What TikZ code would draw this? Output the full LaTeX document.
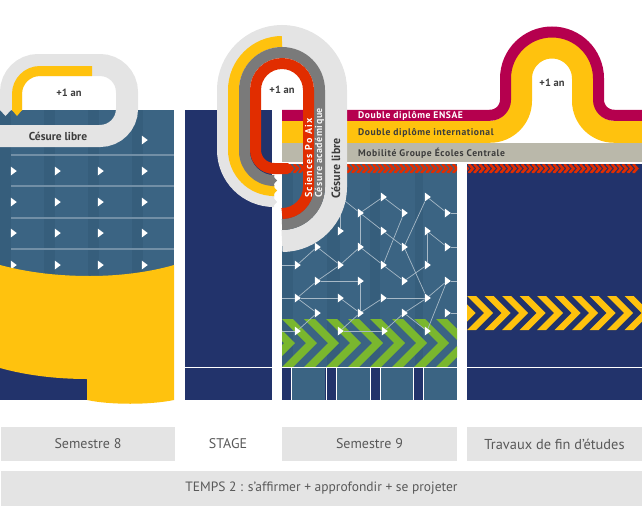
\documentclass[tikz,border=0pt]{standalone}
\usepackage{fontspec}
\setmainfont{PT Sans}
\newfontfamily\bandfont[LetterSpace=6]{PT Sans}
\newfontfamily\acadfont[LetterSpace=5]{PT Sans}
\newfontfamily\aixfont[LetterSpace=11]{PT Sans}
\usetikzlibrary{shapes.geometric}

\definecolor{steel}{HTML}{3B6483}
\definecolor{stripe}{HTML}{365E7C}
\definecolor{navy}{HTML}{22336B}
\definecolor{gold}{HTML}{FFC20E}
\definecolor{wine}{HTML}{B5004E}
\definecolor{blood}{HTML}{E12D00}
\definecolor{slate}{HTML}{7A7A7A}
\definecolor{pale}{HTML}{E4E4E4}
\definecolor{sand}{HTML}{BAB8AA}
\definecolor{lime}{HTML}{7AB72E}
\definecolor{ink}{HTML}{3C3C3C}

\tikzset{
  arrowhead/.style={isosceles triangle,isosceles triangle stretches,fill=white,inner sep=0pt,
    minimum width=9pt,minimum height=6pt},
  link/.style={draw=white!55!steel,line width=0.7pt},
  streak/.style={draw=white!28!steel,line width=1.2pt},
  caption/.style={fill=pale,text=ink!85,font=\fontsize{14}{14}\selectfont,inner sep=0pt,minimum height=34pt},
  bandlabel/.style={anchor=west,inner sep=0pt,font=\bandfont\bfseries\fontsize{9.6}{10}\selectfont},
  looplabel/.style={anchor=west,rotate=90,inner sep=0pt},
  extra/.style={text=ink,inner sep=0pt,font=\bfseries\fontsize{10.5}{10.5}\selectfont}
}

\begin{document}
\begin{tikzpicture}[x=1pt,y=1pt,yscale=-1]
    \useasboundingbox (0,0) rectangle (642,506);

    % Semestre 8
    \fill[steel] (0,110) rectangle (174,290);
    \foreach \x in {0,44,88,132}
        \fill[stripe] (\x,110) rectangle (\x+10.5,290);
    \foreach \y in {155,186,218,249}
        \draw[streak] (11,\y) -- (174,\y);
    \foreach \x/\c in {13/a,57/b,100/c,144/d}
        \foreach \y/\r in {171/1,202/2,233/3,265/4}
            \node[arrowhead] (s\c\r) at (\x,\y) {};
    \node[arrowhead] (sd0) at (144,140) {};
    \fill[navy] (0,360) rectangle (87,400);
    \fill[gold] (0,265) .. controls (30,273) and (60,276) .. (90,276)
        .. controls (120,276) and (150,272) .. (174,265) -- (174,400)
        .. controls (150,405) and (110,405) .. (87,400) -- (87,379)
        .. controls (55,379) and (25,375) .. (0,368) -- cycle;

    % STAGE
    \fill[navy] (185,110) rectangle (272,400);
    \draw[white,line width=1pt] (185,367.5) -- (272,367.5);

    % bandes du haut
    \fill[sand] (282,143) rectangle (642,162);
    \draw[gold,line width=22pt] (282,131.75) -- (490,131.75) arc (90:0:31) -- (521,78.5)
        arc (180:360:31) -- (583,100.75) arc (180:90:31) -- (642,131.75);
    \draw[wine,line width=11pt] (282,115.25) -- (490,115.25) arc (90:0:15.5) -- (505.5,78.5)
        arc (180:360:46.5) -- (598.5,99.75) arc (180:90:15.5) -- (642,115.25);

    % Semestre 9
    \fill[steel] (282,173) rectangle (457,367);
    \foreach \x/\w in {282/11,327/13,370/10,415/8}
        \fill[stripe] (\x,173) rectangle (\x+\w,367);
    \begin{scope}
        \clip (282,319) rectangle (457,367);
        \foreach \x in {260,282,...,436}
            \fill[lime] (\x,319) -- (\x+11,319) -- (\x+35,343) -- (\x+11,367) -- (\x,367) -- (\x+24,343) -- cycle;
    \end{scope}
    \fill[navy] (282,368) rectangle (457,400);
    \foreach \x in {292,337,381,424}
        \fill[steel] (\x,368) rectangle (\x+33,400);
    \draw[white,line width=1pt] (282,367.5) -- (457,367.5);
    \foreach \x in {291.5,326,336.5,370.5,380.5,413.5,423.5}
        \draw[white,line width=0.7pt] (\x,368) -- (\x,400);

    \foreach \name/\x/\y in {a/383/197,b/427/197,c/360/213,d/404/213,e/447/213,f/340/231,g/383/231,
        h/427/231,i/317/247,j/360/247,k/404/247,l/447/247,m/297/265,n/340/265,o/383/265,p/427/265,
        q/317/281,r/360/281,s/404/281,t/447/281,u/297/298,v/340/298,w/383/298,x/427/298,
        y/317/313,z/360/313,A/404/313,B/447/313,C/297/331,D/340/331,E/384/331,F/427/331}
        \node[arrowhead] (\name) at (\x,\y) {};
    \coordinate (H1) at (340,197);
    \coordinate (H2) at (340,205);
    \coordinate (L1) at (282,265);
    \coordinate (L2) at (282,298);
    \coordinate (L3) at (282,331);
    \coordinate (R1) at (457,213);
    \coordinate (R2) at (457,247);
    \coordinate (R3) at (457,281);
    \coordinate (R4) at (457,313);
    \foreach \from/\to in {H1/c,H2/f,c/a,a/d,c/g,c/j,b/e,b/k,d/o,g/k,h/l,h/p,k/x,j/o,j/n,i/n,i/m,
        m/L1,n/q,q/r,q/u,u/v,u/L2,u/y,v/z,r/z,z/w,w/x,x/A,x/t,o/s,s/p,t/F,C/y,D/z,E/A,D/E,C/L3,
        A/F,e/R1,l/R2,t/R3,B/R4}
        \draw[link] (\from) -- (\to);

    % Travaux de fin d'etudes
    \fill[navy] (467,173) rectangle (642,400);
    \draw[white,line width=1pt] (467,367.5) -- (642,367.5);
    \begin{scope}
        \clip (467,296) rectangle (642,330);
        \foreach \x in {449.5,467,...,642}
            \fill[gold] (\x,296) -- (\x+9,296) -- (\x+26,313) -- (\x+9,330) -- (\x,330) -- (\x+17,313) -- cycle;
    \end{scope}

    % chevrons rouges
    \fill[navy] (467,164) rectangle (642,173);
    \fill[steel] (282,164) rectangle (457,173);
    \begin{scope}
        \clip (282,164) rectangle (457,173) (467,164) rectangle (642,173);
        \foreach \x in {282,287.3,...,642}
            \draw[blood,line width=2.6pt] (\x-4,164) -- (\x,168.5) -- (\x-4,173);
    \end{scope}

    % Semestre 8 : boucle
    \draw[pale,line width=22pt,rounded corners=27pt] (0,136) -- (127,136) -- (127,65) -- (11,65) -- (11,110);
    \fill[pale] (0,110) -- (11,110) -- (5.5,116) -- cycle;
    \draw[gold,line width=10pt,rounded corners=23pt] (92,71) -- (17,71) -- (17,110.5);
    \fill[gold] (12,110) -- (22,110) -- (17,116) -- cycle;
    \node[extra] (plusA) at (69,93) {+1 an};
    \node[inner sep=0pt,text=ink,font=\bfseries\fontsize{11.5}{11.5}\selectfont] (libreA) at (58,136) {Césure libre};

    % STAGE : boucle
    \draw[pale,line width=22pt] (272,196) -- (274,196) arc (90:180:46) -- (228,90) arc (180:360:54)
        -- (336,187) arc (0:90:54);
    \fill[pale] (272,196) -- (272,207) -- (277,202) -- cycle;
    \draw[gold,line width=11pt] (272,190.5) -- (274,190.5) arc (90:180:40.5) -- (233.5,90) arc (180:270:48.5);
    \fill[gold] (272,185) -- (277,190.5) -- (272,196) -- cycle;
    \draw[slate,line width=11pt] (272,180.5) -- (274,180.5) arc (90:180:29.5) -- (244.5,90) arc (180:360:37.5)
        -- (319.5,187) arc (0:90:37.5);
    \fill[slate] (272,175) -- (277,180.5) -- (272,186) -- cycle;
    \draw[blood,line width=11pt] (288,168.5) -- (274,168.5) arc (90:180:18.5) -- (255.5,90) arc (180:360:26.5)
        -- (308.5,187) arc (0:90:26.5);
    \fill[blood] (288,163) -- (293,168.5) -- (288,174) -- cycle;

    \node[extra] (plusB) at (282,90) {+1 an};
    \node[extra] (plusC) at (552,83) {+1 an};

    \node[looplabel,text=white,font=\aixfont\bfseries\fontsize{10}{10}\selectfont] (aix) at (308.5,198) {Sciences Po Aix};
    \node[looplabel,text=white!90!slate,font=\acadfont\bfseries\fontsize{10}{10}\selectfont] (acad) at (319.5,198) {Césure académique};
    \node[looplabel,text=ink,font=\bfseries\fontsize{12}{12}\selectfont] (libreB) at (336,199) {Césure libre};

    \node[bandlabel,text=white] (ensae) at (358,115.5) {Double diplôme ENSAE};
    \node[bandlabel,text=ink] (inter) at (358,132.5) {Double diplôme international};
    \node[bandlabel,text=ink] (mobil) at (358,153) {Mobilité Groupe Écoles Centrale};

    % legendes
    \node[caption,minimum width=174pt] (sem8) at (88,444) {Semestre 8};
    \node[caption,fill=none] (stage) at (228,444) {STAGE};
    \node[caption,minimum width=175pt] (sem9) at (369.5,444) {Semestre 9};
    \node[caption,minimum width=175pt,font=\fontsize{14.4}{14.4}\selectfont] (tfe) at (554.5,444) {Travaux de fin d'études};
    \node[caption,minimum width=641pt,minimum height=35pt,font=\fontsize{13.5}{13.5}\selectfont] (temps) at (321.5,488.5) {TEMPS 2 : s'affirmer + approfondir + se projeter};
\end{tikzpicture}
\end{document}
